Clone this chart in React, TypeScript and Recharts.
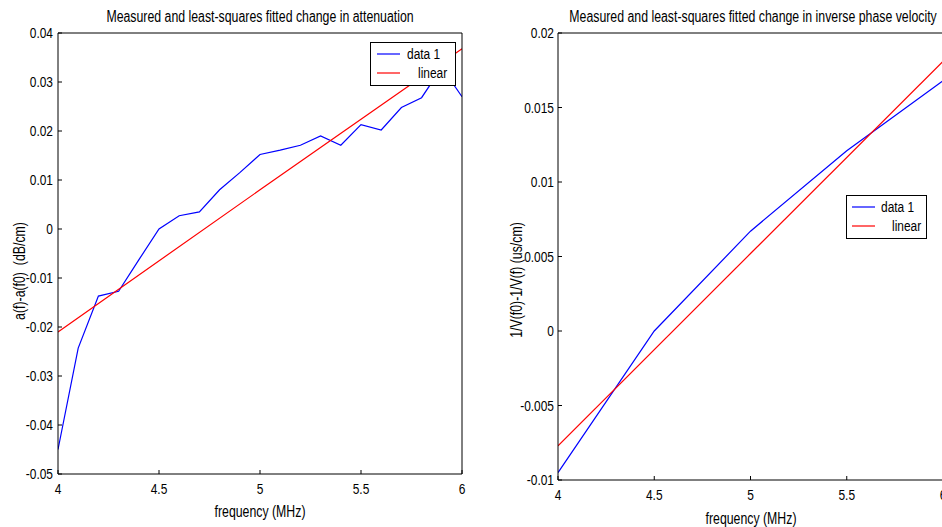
import React from 'react';
import { LineChart, Line, XAxis, YAxis, Legend, Label } from 'recharts';

const FONT = "'Liberation Sans', Arial, sans-serif";
const SX = 0.77; // horizontal condensing to mimic a narrow, tall face

// ---- Left panel: change in attenuation ----
const attenFreq = [4.0, 4.1, 4.2, 4.3, 4.4, 4.5, 4.6, 4.7, 4.8, 4.9, 5.0, 5.1, 5.2, 5.3, 5.4, 5.5, 5.6, 5.7, 5.8, 5.9, 6.0];
const attenMeasured = [-0.045, -0.0243, -0.0137, -0.0127, -0.0063, 0, 0.0027, 0.0035, 0.008, 0.0115, 0.0152, 0.0161, 0.0171, 0.019, 0.0171, 0.0213, 0.0202, 0.0248, 0.0268, 0.033, 0.027];
const attenFitFreq = [4, 5, 6];
const attenFit = [-0.021, 0.008, 0.0368];
const attenTicks = [-0.05, -0.04, -0.03, -0.02, -0.01, 0, 0.01, 0.02, 0.03, 0.04];

// ---- Right panel: change in inverse phase velocity ----
const phaseFreq = [4, 4.5, 5, 5.5, 6];
const phaseMeasured = [-0.0095, 0, 0.0067, 0.0121, 0.0168];
const phaseFitFreq = [4, 5, 6];
const phaseFit = [-0.0077, 0.0052, 0.0181];
const phaseTicks = [-0.01, -0.005, 0, 0.005, 0.01, 0.015, 0.02];

const freqTicks = [4, 4.5, 5, 5.5, 6];
const seriesNames = ['data 1', 'linear'];

type Pt = { f: number; v: number };
const zip = (xs: number[], ys: number[]): Pt[] => xs.map((f, i) => ({ f, v: ys[i] }));

const black = { stroke: '#000', strokeWidth: 1 };
const TICK_SIZE = 15.5;
const LABEL_SIZE = 16;
const LINE_W = 1.2;

function NText(props: {
  x: number; y: number; anchor: 'start' | 'middle' | 'end'; dy?: string; size: number;
  rotate?: number; children: React.ReactNode;
}) {
  const t = `translate(${props.x} ${props.y})${props.rotate ? ` rotate(${props.rotate})` : ''} scale(${SX} 1)`;
  return (
    <text
      transform={t} x={0} y={0} dy={props.dy} textAnchor={props.anchor}
      fontSize={props.size} fontFamily={FONT} fill="#000" style={{ whiteSpace: 'pre' }}
    >
      {props.children}
    </text>
  );
}

const bottomTick = (props: any) => (
  <NText x={props.x} y={props.y} anchor="middle" dy="0.71em" size={TICK_SIZE}>{String(props.payload.value)}</NText>
);
const leftTick = (props: any) => (
  <NText x={props.x} y={props.y} anchor="end" dy="0.35em" size={TICK_SIZE}>{String(props.payload.value)}</NText>
);

type LegendCfg = {
  left: number; top: number; width: number; height: number;
  lineX: [number, number]; rowY: number[]; textX: number[];
};

function makeLegend(cfg: LegendCfg) {
  return (props: any) => {
    const payload = props.payload || [];
    return (
      <svg width={cfg.width} height={cfg.height} style={{ display: 'block' }}>
        <rect x={0.5} y={0.5} width={cfg.width - 1} height={cfg.height - 1} fill="#fff" stroke="#000" />
        {payload.map((p: any, i: number) => (
          <g key={i}>
            <line x1={cfg.lineX[0]} x2={cfg.lineX[1]} y1={cfg.rowY[i]} y2={cfg.rowY[i]} stroke={p.color} strokeWidth={LINE_W} />
            <NText x={cfg.textX[i]} y={cfg.rowY[i]} anchor="start" dy="0.35em" size={TICK_SIZE}>{p.value}</NText>
          </g>
        ))}
      </svg>
    );
  };
}

type PanelProps = {
  left: number; width: number; height: number;
  top: number; right: number; yAxisWidth: number; xAxisHeight: number;
  yDomain: [number, number]; yTicks: number[];
  measured: Pt[]; fit: Pt[];
  title: string; titlePos: [number, number];
  xLabel: string; xLabelPos: [number, number];
  yLabel: string; yLabelPos: [number, number];
  yTickMargin: number; xTickMargin: number;
  legend: LegendCfg;
};

function Panel(p: PanelProps) {
  const legendContent = makeLegend(p.legend);
  return (
    <div style={{ position: 'absolute', left: p.left, top: 0, width: p.width, height: p.height }}>
      <LineChart
        width={p.width}
        height={p.height}
        margin={{ top: p.top - 1, right: p.right - 1, bottom: 0, left: 0 }}
        style={{ fontFamily: FONT }}
      >
        <XAxis
          xAxisId="b" dataKey="f" type="number" domain={[4, 6]} ticks={freqTicks}
          height={p.xAxisHeight} tickSize={-4} tickMargin={p.xTickMargin} tick={bottomTick}
          axisLine={black} tickLine={black} allowDataOverflow interval={0}
        >
          <Label
            content={() => (
              <NText x={p.xLabelPos[0]} y={p.xLabelPos[1]} anchor="middle" size={LABEL_SIZE}>{p.xLabel}</NText>
            )}
          />
        </XAxis>
        <XAxis
          xAxisId="t" orientation="top" dataKey="f" type="number" domain={[4, 6]} ticks={freqTicks}
          height={1} tickSize={-4} tick={false} axisLine={black} tickLine={black} allowDataOverflow interval={0}
        >
          <Label
            content={() => (
              <NText x={p.titlePos[0]} y={p.titlePos[1]} anchor="middle" size={LABEL_SIZE}>{p.title}</NText>
            )}
          />
        </XAxis>
        <YAxis
          yAxisId="l" type="number" domain={p.yDomain} ticks={p.yTicks} width={p.yAxisWidth}
          tickSize={-4} tickMargin={p.yTickMargin} tick={leftTick} axisLine={black} tickLine={black}
          allowDataOverflow interval={0}
        >
          <Label
            content={() => (
              <NText x={p.yLabelPos[0]} y={p.yLabelPos[1]} anchor="middle" dy="0.35em" rotate={-90} size={LABEL_SIZE}>
                {p.yLabel}
              </NText>
            )}
          />
        </YAxis>
        <YAxis
          yAxisId="r" orientation="right" type="number" domain={p.yDomain} ticks={p.yTicks} width={1}
          tickSize={-4} tick={false} axisLine={black} tickLine={black} allowDataOverflow interval={0}
        />
        <Line
          xAxisId="b" yAxisId="l" data={p.measured} dataKey="v" name={seriesNames[0]}
          stroke="#0000ff" strokeWidth={LINE_W} dot={false} isAnimationActive={false}
        />
        <Line
          xAxisId="b" yAxisId="l" data={p.fit} dataKey="v" name={seriesNames[1]}
          stroke="#ff0000" strokeWidth={LINE_W} dot={false} isAnimationActive={false}
        />
        <Legend
          layout="horizontal" verticalAlign="middle" align="center"
          wrapperStyle={{
            left: p.legend.left, top: p.legend.top, width: p.legend.width, height: p.legend.height,
            right: 'auto', bottom: 'auto',
          }}
          content={legendContent}
        />
      </LineChart>
    </div>
  );
}

export default function App() {
  return (
    <div style={{ position: 'absolute', left: 0, top: 0, width: 942, height: 527, overflow: 'hidden', background: '#fff' }}>
      <Panel
        left={0} width={480} height={527} top={33} right={18} yAxisWidth={58} xAxisHeight={53}
        yDomain={[-0.05, 0.04]} yTicks={attenTicks}
        measured={zip(attenFreq, attenMeasured)} fit={zip(attenFitFreq, attenFit)}
        title="Measured and least-squares fitted change in attenuation" titlePos={[260, 22]}
        xLabel="frequency (MHz)" xLabelPos={[260, 517]}
        yLabel="a(f)-a(f0)  (dB/cm)" yLabelPos={[19, 271]}
        yTickMargin={9} xTickMargin={13}
        legend={{ left: 370, top: 42, width: 86, height: 44, lineX: [7, 30], rowY: [12, 31], textX: [37, 48] }}
      />
      <Panel
        left={470} width={480} height={527} top={33} right={7} yAxisWidth={88} xAxisHeight={47}
        yDomain={[-0.01, 0.02]} yTicks={phaseTicks}
        measured={zip(phaseFreq, phaseMeasured)} fit={zip(phaseFitFreq, phaseFit)}
        title="Measured and least-squares fitted change in inverse phase velocity" titlePos={[283, 22]}
        xLabel="frequency (MHz)" xLabelPos={[281, 524]}
        yLabel="1/V(f0)-1/V(f) (us/cm)" yLabelPos={[46, 280]}
        yTickMargin={8} xTickMargin={13}
        legend={{ left: 376, top: 195, width: 81, height: 44, lineX: [6, 29], rowY: [12, 31], textX: [35, 46] }}
      />
    </div>
  );
}
